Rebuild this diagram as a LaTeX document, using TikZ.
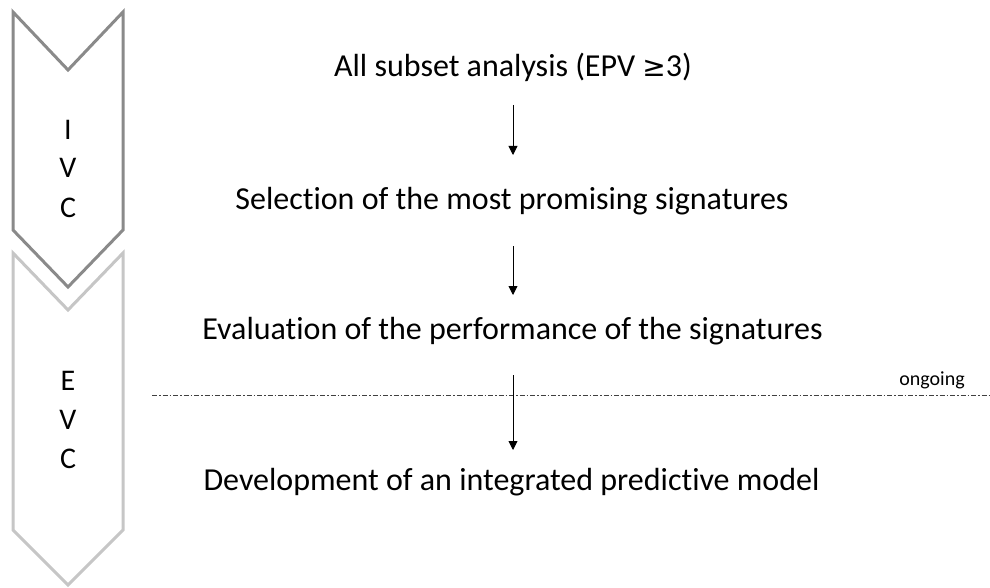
\documentclass[tikz,border=0pt]{standalone}
\usepackage{fontspec}
\setmainfont[Ligatures=NoCommon]{Carlito}
\newfontfamily\symfont{DejaVu Sans}
\usetikzlibrary{arrows.meta}
\definecolor{darkchev}{HTML}{8A8A8A}
\definecolor{lightchev}{HTML}{C6C6C6}
\tikzset{
  chev/.style={line width=3pt, line join=miter, fill=white},
  maintext/.style={font=\fontsize{32}{38}\selectfont, inner sep=0pt, anchor=base},
  chevtext/.style={font=\fontsize{30}{38.5}\selectfont, inner sep=0pt, align=center, anchor=base},
  arr/.style={line width=0.9pt, -{Triangle[length=9pt,width=9pt]}},
  sepline/.style={line width=0.9pt, color=black!75, dash pattern=on 5pt off 2pt on 1.5pt off 2pt},
}
\begin{document}
\begin{tikzpicture}[x=1pt,y=-1pt]
\useasboundingbox (0,0) rectangle (990,588);
% chevrons
\draw[chev, draw=lightchev] (13,253) -- (68,310) -- (123,253) -- (123,530) -- (68,585) -- (13,530) -- cycle;
\draw[chev, draw=darkchev] (13,12) -- (68,70) -- (123,12) -- (123,230) -- (68,287) -- (13,230) -- cycle;
\node[chevtext] (ivc) at (68,140) {I};
\node[chevtext] (ivc2) at (68,178) {V};
\node[chevtext] (ivc3) at (68,217) {C};
\node[chevtext] (evc) at (68,390) {E};
\node[chevtext] (evc2) at (68,429) {V};
\node[chevtext] (evc3) at (68,468) {C};
% separator
\coordinate (sepL) at (152,395);
\coordinate (sepR) at (990,395);
\draw[sepline] (sepL) -- (sepR);
\node[font=\fontsize{20}{22}\selectfont, inner sep=0pt, anchor=base] (ong) at (932,385) {ongoing};
% steps
\node[maintext] (t1) at (513,77) {All subset analysis (EPV {\symfont\fontsize{28}{32}\selectfont ≥}3)};
\node[maintext] (t2) at (512,209) {Selection of the most promising signatures};
\node[maintext] (t3) at (512.5,339) {Evaluation of the performance of the signatures};
\node[maintext] (t4) at (511.5,490) {Development of an integrated predictive model};
\draw[arr] ([yshift=-28pt]t1.base -| 513,0) -- ([yshift=54pt]t2.base -| 513,0);
\draw[arr] ([yshift=-37pt]t2.base -| 513,0) -- ([yshift=44pt]t3.base -| 513,0);
\draw[arr] ([yshift=-36pt]t3.base -| 513,0) -- ([yshift=40pt]t4.base -| 513,0);
\end{tikzpicture}
\end{document}
